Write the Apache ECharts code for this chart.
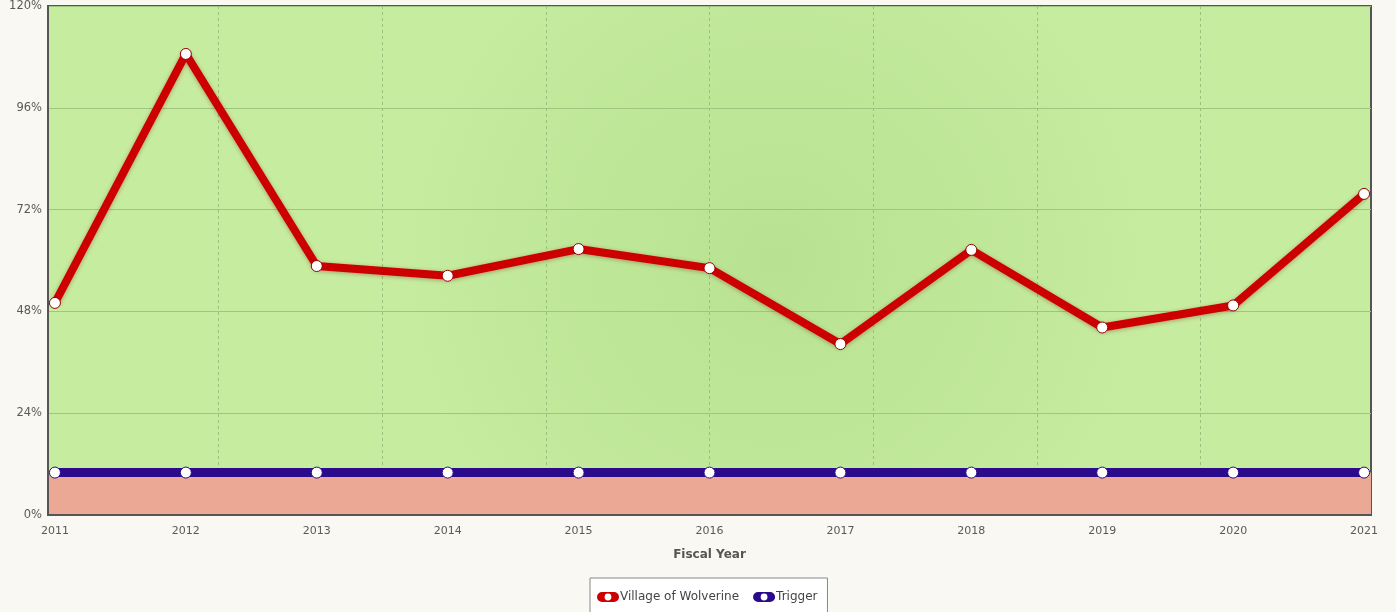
<!DOCTYPE html>
<html>
<head>
<meta charset="utf-8">
<script src="https://cdn.jsdelivr.net/npm/echarts@6/dist/echarts.min.js"></script>
<style>
html,body{margin:0;padding:0;background:#f9f8f2;}
#chart{width:1396px;height:612px;}
</style>
</head>
<body>
<div id="chart"></div>
<script>
const years = [2011, 2012, 2013, 2014, 2015, 2016, 2017, 2018, 2019, 2020, 2021];
const wolverine = [50.0, 108.7, 58.7, 56.4, 62.7, 58.2, 40.3, 62.5, 44.2, 49.4, 75.7];
const trigger = [10, 10, 10, 10, 10, 10, 10, 10, 10, 10, 10];
const yTicks = [0, 24, 48, 72, 96, 120];

const first = years[0], last = years[years.length - 1];
const guides = [];
for (let k = 1; k < 8; k++) guides.push(first + k * (last - first) / 8);

const pill = 'path://M5,0 H17 A5,5 0 0 1 17,10 H5 A5,5 0 0 1 5,0 Z M11,1.6 A3.4,3.4 0 0 0 11,8.4 A3.4,3.4 0 0 0 11,1.6 Z';

const chart = echarts.init(document.getElementById('chart'));
const font = '"DejaVu Sans", Verdana, sans-serif';
const xMin = first - 0.053, xMax = last + 0.053;
const yMin = yTicks[0], yMax = yTicks[yTicks.length - 1];
chart.setOption({
  backgroundColor: '#f9f8f2',
  animation: false,
  grid: {
    left: 48, right: 25, top: 6, bottom: 97,
    show: true,
    borderColor: '#555',
    borderWidth: 2,
    backgroundColor: {
      type: 'radial', x: 0.55, y: 0.5, r: 0.75,
      colorStops: [{offset: 0, color: '#b8e291'}, {offset: 1, color: '#c6ec9f'}]
    }
  },
  xAxis: [{
    type: 'value',
    min: xMin,
    max: xMax,
    name: 'Fiscal Year',
    nameLocation: 'middle',
    nameGap: 34,
    nameTextStyle: {fontFamily: font, fontSize: 12, fontWeight: 'bold', color: '#555'},
    axisLine: {show: false},
    axisTick: {show: false, customValues: guides},
    axisLabel: {customValues: years, fontFamily: font, fontSize: 11, color: '#595959', margin: 11,
      formatter: v => String(Math.round(v))},
    splitLine: {show: true, lineStyle: {color: '#9cbf7c', type: [3, 3], width: 1}}
  }, {
    type: 'value', min: xMin, max: xMax, position: 'bottom', z: 20,
    axisLine: {show: true, onZero: false, lineStyle: {color: '#555', width: 2}},
    axisTick: {show: false}, axisLabel: {show: false}, splitLine: {show: false}
  }],
  yAxis: [{
    type: 'value',
    min: yMin,
    max: yMax,
    interval: yTicks[1] - yTicks[0],
    axisLine: {show: false},
    axisTick: {show: false},
    axisLabel: {formatter: '{value}%', fontFamily: font, fontSize: 11.5, color: '#595959', margin: 6},
    splitLine: {show: true, lineStyle: {color: '#9fc57e', width: 1}}
  }, {
    type: 'value', min: yMin, max: yMax, position: 'left', z: 20,
    axisLine: {show: true, onZero: false, lineStyle: {color: '#555', width: 2}},
    axisTick: {show: false}, axisLabel: {show: false}, splitLine: {show: false}
  }],
  legend: {
    top: 578,
    left: 590,
    backgroundColor: '#ffffff',
    borderColor: '#888',
    borderWidth: 1,
    padding: [13, 10, 20, 7],
    itemGap: 14,
    itemWidth: 22,
    itemHeight: 10,
    textStyle: {fontFamily: font, fontSize: 12, color: '#444', padding: [0, 0, 0, -4]},
    data: [
      {name: 'Village of Wolverine', icon: pill, itemStyle: {color: '#cc0000', borderWidth: 0}},
      {name: 'Trigger', icon: pill, itemStyle: {color: '#2b0a8c', borderWidth: 0}}
    ]
  },
  series: [
    {
      name: 'Trigger',
      type: 'line',
      data: years.map((y, i) => [y, trigger[i]]),
      z: 3,
      symbol: 'circle',
      symbolSize: 11,
      itemStyle: {color: '#ffffff', borderColor: '#2b0a8c', borderWidth: 1},
      lineStyle: {color: '#2b0a8c', width: 9},
      markArea: {
        silent: true,
        itemStyle: {color: '#eaa895'},
        data: [[{yAxis: 0}, {yAxis: trigger[0]}]]
      }
    },
    {
      name: 'Village of Wolverine',
      type: 'line',
      data: years.map((y, i) => [y, wolverine[i]]),
      z: 4,
      symbol: 'circle',
      symbolSize: 11,
      itemStyle: {color: '#ffffff', borderColor: '#9a0000', borderWidth: 1},
      lineStyle: {color: '#cc0000', width: 8, shadowBlur: 4, shadowColor: 'rgba(120,0,0,0.35)', shadowOffsetY: 1}
    }
  ]
});
</script>
</body>
</html>
